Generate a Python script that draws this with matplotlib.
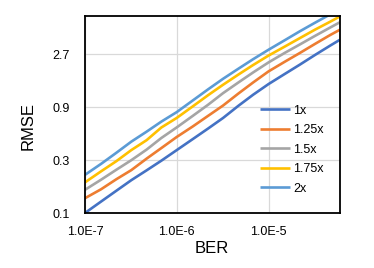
import matplotlib
matplotlib.use("Agg")
import matplotlib.pyplot as plt
from matplotlib.ticker import FixedLocator, FixedFormatter, NullLocator

plt.rcParams["font.family"] = ["Liberation Sans", "DejaVu Sans"]

# BER values (x) and RMSE for each multiplier
ber = [1.0e-7, 1.5e-7, 2.2e-7, 3.2e-7, 4.7e-7, 6.8e-7,
       1.0e-6, 1.5e-6, 2.2e-6, 3.2e-6, 4.7e-6, 6.8e-6,
       1.0e-5, 1.5e-5, 2.2e-5, 3.2e-5, 4.7e-5, 6.0e-5]
rmse_1x = [0.100, 0.127, 0.159, 0.198, 0.243, 0.297, 0.370, 0.466, 0.580,
           0.722, 0.930, 1.17, 1.46, 1.80, 2.19, 2.67, 3.25, 3.67]
rmse_125x = [0.136, 0.164, 0.202, 0.244, 0.310, 0.386, 0.486, 0.606, 0.755,
             0.935, 1.20, 1.51, 1.90, 2.32, 2.79, 3.36, 4.05, 4.52]
rmse_15x = [0.162, 0.200, 0.246, 0.300, 0.374, 0.476, 0.593, 0.755, 0.951,
            1.21, 1.51, 1.86, 2.29, 2.79, 3.33, 3.97, 4.73, 5.28]
rmse_175x = [0.189, 0.238, 0.294, 0.370, 0.455, 0.592, 0.722, 0.920, 1.16,
             1.44, 1.78, 2.17, 2.64, 3.18, 3.80, 4.52, 5.34, 5.96]
rmse_2x = [0.221, 0.278, 0.350, 0.441, 0.543, 0.669, 0.815, 1.04, 1.31,
           1.63, 2.01, 2.45, 2.98, 3.63, 4.38, 5.22, 6.22, 6.95]

labels = ["1x", "1.25x", "1.5x", "1.75x", "2x"]
colors = ["#4472C4", "#ED7D31", "#A5A5A5", "#FFC000", "#5B9BD5"]
series = [rmse_1x, rmse_125x, rmse_15x, rmse_175x, rmse_2x]

yticks = [0.1, 0.3, 0.9, 2.7]
xticks = [1e-7, 1e-6, 1e-5]
xtick_labels = ["1.0E-7", "1.0E-6", "1.0E-5"]

fig = plt.figure(figsize=(3.74, 2.68), dpi=100)
ax = fig.add_axes([0.227, 0.205, 0.682, 0.735])

for vals, lab, col in zip(series, labels, colors):
    ax.plot(ber, vals, color=col, lw=1.9, label=lab, solid_capstyle="butt")

ax.set_xscale("log")
ax.set_yscale("log", base=3)
ax.set_xlim(1e-7, 6e-5)
ax.set_ylim(0.1, 6.0)

ax.xaxis.set_major_locator(FixedLocator(xticks))
ax.xaxis.set_major_formatter(FixedFormatter(xtick_labels))
ax.xaxis.set_minor_locator(NullLocator())
ax.yaxis.set_major_locator(FixedLocator(yticks))
ax.yaxis.set_major_formatter(FixedFormatter([str(v) for v in yticks]))
ax.yaxis.set_minor_locator(NullLocator())

ax.tick_params(length=0, labelsize=9, colors="#000000")
ax.tick_params(axis="x", pad=9)
ax.tick_params(axis="y", pad=11)
ax.grid(True, color="#D9D9D9", lw=0.9)
ax.set_axisbelow(True)
for sp in ax.spines.values():
    sp.set_color("#000000")
    sp.set_linewidth(1.3)

ax.set_xlabel("BER", fontsize=12)
ax.xaxis.set_label_coords(0.497, -0.178)
ax.xaxis.label.set_verticalalignment("center")
ax.set_ylabel("RMSE", fontsize=12)
ax.yaxis.set_label_coords(-0.224, 0.44)
ax.yaxis.label.set_verticalalignment("center")

ax.legend(loc="upper left", bbox_to_anchor=(0.686, 0.55), frameon=False,
          fontsize=9, handlelength=2.4, handletextpad=0.25, labelspacing=0.6,
          borderpad=0, borderaxespad=0)

fig.savefig("out.png", dpi=100)
